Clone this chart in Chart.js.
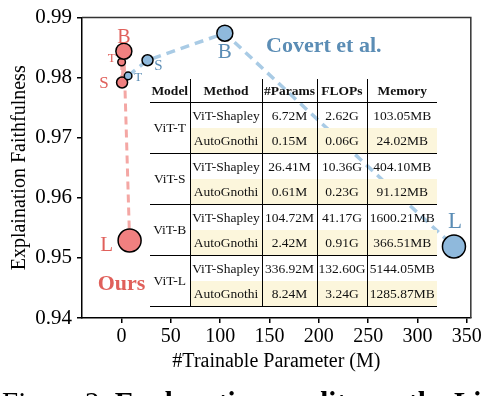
<!DOCTYPE html>
<html>
<head>
<meta charset="utf-8">
<script src="https://cdn.jsdelivr.net/npm/chart.js@4.4.1/dist/chart.umd.min.js"></script>
<style>
  body { margin: 0; background: #fff; }
  #wrap { position: relative; width: 484px; height: 396px; overflow: hidden; background: #fff; }
  #c { position: absolute; left: 0; top: 0; }
  #tbl {
    position: absolute; left: 150px; top: 79px;
    border-collapse: collapse; table-layout: fixed;
    font-family: "Liberation Serif", serif; font-size: 13.5px; color: #111;
  }
  #tbl td, #tbl th { padding: 0; text-align: center; white-space: nowrap; }
  #tbl th { height: 23px; font-weight: bold; border-bottom: 1.5px solid #000; }
  #tbl td { height: 25px; }
  #tbl .vr { border-right: 1.5px solid #000; }
  #tbl .gb td { border-bottom: 1.5px solid #000; }
  #tbl .auto td.c { background: #fcf6dc; }
  #cap {
    position: absolute; left: 2px; top: 388px; white-space: nowrap;
    font-family: "Liberation Serif", serif; font-size: 29px; line-height: 1; color: #000;
  }
</style>
</head>
<body>
<div id="wrap">
  <canvas id="c" width="484" height="396"></canvas>
  <table id="tbl"></table>
  <div id="cap">Figure 2: <b>Explanation quality vs. the Lightweight</b></div>
</div>
<script>
// dados
const xTicks = [0, 50, 100, 150, 200, 250, 300, 350];
const yTicks = [0.94, 0.95, 0.96, 0.97, 0.98, 0.99];
const modelos = ["T", "S", "B", "L"];

const oursParams = [0.15, 0.61, 2.42, 8.24];
const oursFaith = [0.9826, 0.9792, 0.9844, 0.9529];
const covertParams = [6.72, 26.41, 104.72, 336.92];
const covertFaith = [0.9803, 0.9829, 0.9874, 0.9519];

// tabela
const tabModelos = ["ViT-T", "ViT-S", "ViT-B", "ViT-L"];
const tabCabecalho = ["Model", "Method", "#Params", "FLOPs", "Memory"];
const shapleyParams = ["6.72M", "26.41M", "104.72M", "336.92M"];
const shapleyFlops = ["2.62G", "10.36G", "41.17G", "132.60G"];
const shapleyMem = ["103.05MB", "404.10MB", "1600.21MB", "5144.05MB"];
const autoParams = ["0.15M", "0.61M", "2.42M", "8.24M"];
const autoFlops = ["0.06G", "0.23G", "0.91G", "3.24G"];
const autoMem = ["24.02MB", "91.12MB", "366.51MB", "1285.87MB"];

// estilos
const raios = [3.8, 5.5, 8, 11.5];
const vermelho = "#e0605b";
const azul = "#5b8db5";
const fonte = "'Liberation Serif', 'Times New Roman', serif";

// deslocamento dos rótulos (px) e tamanho da fonte
const rotulosOurs = [[-10, -3, 13], [-18, 1, 17], [0, -13, 20], [-23, 5, 21]];
const rotulosCovert = [[10, 2, 13], [11, 6, 15], [0, 19, 21], [1, -25, 23]];

// montar tabela
const colW = [40, 72, 55, 50, 70];
let html = "<colgroup>" + colW.map(w => `<col style="width:${w}px">`).join("") + "</colgroup>";
html += "<tr>" + tabCabecalho.map((h, i) => `<th class="${i < 4 ? 'vr' : ''}">${h}</th>`).join("") + "</tr>";
tabModelos.forEach((m, i) => {
  html += `<tr><td rowspan="2" class="vr" style="border-bottom:1.5px solid #000">${m}</td>` +
    `<td class="vr">ViT-Shapley</td><td class="vr">${shapleyParams[i]}</td><td class="vr">${shapleyFlops[i]}</td><td>${shapleyMem[i]}</td></tr>`;
  html += `<tr class="auto gb"><td class="vr c">AutoGnothi</td><td class="vr c">${autoParams[i]}</td><td class="vr c">${autoFlops[i]}</td><td class="c">${autoMem[i]}</td></tr>`;
});
document.getElementById("tbl").innerHTML = html;

const pontos = (xs, ys) => xs.map((x, i) => ({ x: x, y: ys[i] }));

// moldura e textos
const plugExtras = {
  id: "extras",
  afterDraw(chart) {
    const { ctx, chartArea: a, scales } = chart;
    ctx.save();
    ctx.strokeStyle = "#333";
    ctx.lineWidth = 1.5;
    ctx.beginPath();
    ctx.moveTo(a.left, a.top);
    ctx.lineTo(a.right, a.top);
    ctx.lineTo(a.right, a.bottom);
    ctx.stroke();

    ctx.textAlign = "center";
    ctx.textBaseline = "middle";
    const desenhar = (idx, cor, offs) => {
      const meta = chart.getDatasetMeta(idx);
      meta.data.forEach((p, i) => {
        const [dx, dy, fs] = offs[i];
        ctx.font = `${fs}px ${fonte}`;
        ctx.fillStyle = cor;
        ctx.fillText(modelos[i], p.x + dx, p.y + dy);
      });
    };
    desenhar(0, azul, rotulosCovert);
    desenhar(1, vermelho, rotulosOurs);

    ctx.font = `bold 22px ${fonte}`;
    ctx.fillStyle = azul;
    ctx.fillText("Covert et al.", scales.x.getPixelForValue(205), scales.y.getPixelForValue(0.9852));
    ctx.fillStyle = vermelho;
    ctx.fillText("Ours", scales.x.getPixelForValue(0), scales.y.getPixelForValue(0.9456));
    ctx.restore();
  }
};

new Chart(document.getElementById("c"), {
  type: "scatter",
  data: {
    datasets: [
      {
        label: "Covert et al.",
        data: pontos(covertParams, covertFaith),
        showLine: true,
        borderColor: "#a9cbe5",
        borderWidth: 3.5,
        borderDash: [9, 6],
        pointRadius: raios,
        pointBackgroundColor: "#8fb9dc",
        pointBorderColor: "#000",
        pointBorderWidth: 1.5
      },
      {
        label: "Ours",
        data: pontos(oursParams, oursFaith),
        showLine: true,
        borderColor: "#f4a7a4",
        borderWidth: 3,
        borderDash: [8, 5],
        pointRadius: raios,
        pointBackgroundColor: "#f08080",
        pointBorderColor: "#000",
        pointBorderWidth: 1.5
      }
    ]
  },
  options: {
    responsive: false,
    animation: false,
    layout: { padding: { top: 7, right: 13, bottom: 18, left: 0 } },
    plugins: { legend: { display: false }, tooltip: { enabled: false } },
    scales: {
      x: {
        type: "linear",
        min: -40,
        max: 354,
        afterBuildTicks: s => { s.ticks = xTicks.map(v => ({ value: v })); },
        afterFit: s => { s.height = 60; },
        grid: { drawOnChartArea: false, drawTicks: true, tickLength: 5, color: "#000", lineWidth: 1.5 },
        border: { color: "#000", width: 1.5 },
        ticks: { color: "#000", font: { family: fonte, size: 20 }, padding: 2, maxRotation: 0 },
        title: { display: true, text: "#Trainable Parameter (M)", color: "#000", font: { family: fonte, size: 20 }, padding: { top: 0, bottom: 4 } }
      },
      y: {
        min: 0.94,
        max: 0.99,
        afterBuildTicks: s => { s.ticks = yTicks.map(v => ({ value: v })); },
        afterFit: s => { s.width = 82; },
        grid: { drawOnChartArea: false, drawTicks: true, tickLength: 5, color: "#000", lineWidth: 1.5 },
        border: { color: "#000", width: 1.5 },
        ticks: { color: "#000", font: { family: fonte, size: 21 }, padding: 5, callback: v => v.toFixed(2) },
        title: { display: true, text: "Explaination Faithfulness", color: "#000", font: { family: fonte, size: 20 }, padding: { top: 8, bottom: 0 } }
      }
    }
  },
  plugins: [plugExtras]
});
</script>
</body>
</html>
